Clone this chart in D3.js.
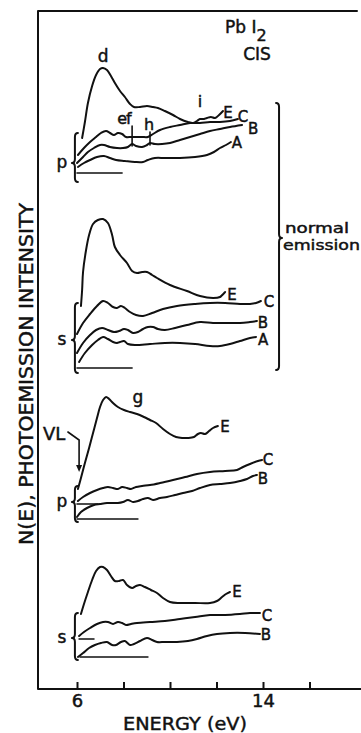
<!DOCTYPE html>
<html>
<head>
<meta charset="utf-8">
<title>PbI2 CIS spectra</title>
<script src="https://cdnjs.cloudflare.com/ajax/libs/d3/7.8.5/d3.min.js"></script>
<style>
  body { margin: 0; background: #fff; }
  svg { display: block; font-family: "DejaVu Sans", sans-serif; }
  text { fill: #111; stroke: #111; stroke-width: 0.45; }
  .curve { fill: none; stroke: #111; stroke-width: 2; stroke-linejoin: round; stroke-linecap: round; }
  .thin { fill: none; stroke: #111; stroke-width: 1.6; stroke-linecap: round; }
</style>
</head>
<body>
<div id="chart"></div>
<script>
// each point: [energy (eV), intensity (arb. units, spectra stacked with offsets)]
const energyTicks = [6, 8, 10, 12, 14, 16];
const labeledTicks = [6, 14];

// p polarisation, normal emission
const pNormE = [[6.22,55.1],[6.34,56.7],[6.47,58.6],[6.65,60.3],[6.82,61.4],[6.99,62.0],[7.12,62.1],[7.29,61.9],[7.46,61.3],[7.63,60.6],[7.85,59.8],[8.06,59.2],[8.28,58.5],[8.45,58.2],[8.71,58.2],[9.01,58.3],[9.27,58.2],[9.48,58.1],[9.78,57.8],[10.13,57.4],[10.43,57.0],[10.77,56.7],[10.99,56.6],[11.16,56.8],[11.29,57.0],[11.46,57.0],[11.59,57.1],[11.76,57.2],[11.94,57.1],[12.11,57.4],[12.28,57.8]];
const pNormC = [[6.04,53.4],[6.30,54.1],[6.56,54.7],[6.82,55.2],[7.03,55.6],[7.25,55.8],[7.42,55.6],[7.59,55.4],[7.76,55.6],[7.94,55.5],[8.11,55.2],[8.32,55.2],[8.54,55.2],[8.80,55.2],[9.05,55.2],[9.27,55.5],[9.57,55.9],[10.00,56.2],[10.43,56.4],[10.86,56.6],[11.29,56.6],[11.72,56.7],[12.15,56.7],[12.58,56.8],[12.92,57.0]];
const pNormB = [[6.00,52.6],[6.26,53.2],[6.47,53.7],[6.73,54.1],[6.99,54.4],[7.16,54.4],[7.42,54.2],[7.72,54.1],[7.98,54.1],[8.19,54.2],[8.37,54.5],[8.54,54.3],[8.80,54.2],[9.01,54.4],[9.14,54.6],[9.35,54.5],[9.66,54.5],[10.00,54.6],[10.43,54.9],[10.86,55.2],[11.29,55.5],[11.72,55.8],[12.15,56.0],[12.58,56.2],[13.10,56.4]];
const pNormA = [[6.04,52.2],[6.30,52.6],[6.56,52.9],[6.86,53.2],[7.16,53.3],[7.42,53.1],[7.68,52.9],[8.06,52.8],[8.49,52.7],[8.84,52.7],[9.05,52.9],[9.35,53.1],[9.78,53.1],[10.43,53.1],[11.08,53.2],[11.59,53.4],[11.89,53.7],[12.15,54.1],[12.41,54.4],[12.62,54.7]];

// s polarisation, normal emission
const sNormE = [[6.17,38.3],[6.22,39.9],[6.26,41.7],[6.39,43.9],[6.52,45.4],[6.69,46.5],[6.90,46.9],[7.12,47.0],[7.33,46.6],[7.51,45.4],[7.63,44.2],[7.85,43.4],[8.15,42.6],[8.37,41.8],[8.58,41.6],[8.80,41.7],[9.01,41.7],[9.23,41.4],[9.44,41.1],[10.00,40.4],[10.73,39.8],[11.29,39.3],[11.85,39.1],[12.15,39.2],[12.37,39.7]];
const sNormC = [[6.00,35.5],[6.26,36.6],[6.56,37.5],[6.86,38.3],[7.12,38.8],[7.33,38.6],[7.55,38.2],[7.72,38.1],[7.89,38.3],[8.06,38.1],[8.28,37.7],[8.54,37.4],[8.84,37.3],[9.23,37.6],[9.70,38.0],[10.30,38.3],[11.08,38.5],[11.72,38.6],[12.37,38.6],[13.01,38.5],[13.44,38.5],[13.70,38.6],[13.91,38.8]];
const sNormB = [[6.00,33.6],[6.26,34.6],[6.56,35.4],[6.82,35.9],[7.08,36.1],[7.33,35.9],[7.59,35.7],[7.81,35.8],[8.02,36.0],[8.19,35.9],[8.41,35.6],[8.62,35.7],[8.84,36.0],[9.05,36.2],[9.27,36.2],[9.48,36.0],[9.78,35.9],[10.22,36.1],[10.73,36.4],[11.29,36.7],[11.85,36.6],[12.37,36.6],[13.01,36.6],[13.44,36.7],[13.74,36.8]];
const sNormA = [[6.09,32.7],[6.34,33.6],[6.65,34.4],[6.90,34.9],[7.12,35.2],[7.33,35.0],[7.55,34.7],[7.72,34.6],[7.85,34.7],[8.02,34.8],[8.19,34.5],[8.49,34.4],[9.14,34.5],[9.78,34.6],[10.43,34.6],[11.08,34.5],[11.72,34.3],[12.15,34.3],[12.58,34.5],[13.01,34.8],[13.44,35.1],[13.70,35.2]];

// p polarisation, off normal
const pOffE = [[6.04,20.0],[6.17,21.1],[6.34,22.6],[6.52,24.1],[6.69,25.6],[6.86,27.1],[6.99,28.2],[7.12,28.9],[7.25,29.2],[7.38,29.0],[7.55,28.6],[7.76,28.2],[8.02,27.9],[8.28,27.7],[8.58,27.5],[8.88,27.2],[9.14,26.9],[9.40,26.6],[9.70,26.0],[10.00,25.5],[10.26,25.2],[10.52,25.1],[10.77,25.1],[11.03,25.2],[11.20,25.5],[11.33,25.6],[11.51,25.5],[11.68,25.8],[11.85,26.1],[12.06,26.3]];
const pOffC = [[6.04,18.8],[6.26,19.2],[6.56,19.6],[6.86,19.9],[7.12,20.1],[7.33,20.2],[7.55,20.1],[7.76,20.0],[7.94,20.2],[8.15,20.1],[8.32,20.0],[8.54,20.2],[8.80,20.3],[9.14,20.4],[9.57,20.6],[10.13,20.9],[10.65,21.2],[11.16,21.5],[11.72,21.7],[12.37,21.8],[12.88,21.9],[13.14,22.2],[13.44,22.5],[13.78,22.8],[13.96,22.9]];
const pOffB = [[6.00,17.2],[6.17,17.7],[6.43,18.1],[6.73,18.4],[6.99,18.5],[7.29,18.6],[7.55,18.6],[7.76,18.6],[7.98,18.7],[8.19,18.9],[8.41,18.7],[8.62,18.8],[8.84,19.0],[9.05,19.1],[9.27,18.9],[9.57,19.1],[9.87,19.2],[10.22,19.4],[10.56,19.6],[10.95,19.8],[11.29,20.1],[11.72,20.4],[12.15,20.5],[12.58,20.6],[13.01,20.8],[13.31,21.0],[13.57,21.3],[13.74,21.4]];

// s polarisation, off normal
const sOffE = [[6.17,7.5],[6.30,8.5],[6.47,9.7],[6.65,10.9],[6.82,11.8],[6.99,12.2],[7.12,12.2],[7.29,11.9],[7.46,11.3],[7.63,10.8],[7.81,10.8],[7.98,10.9],[8.15,10.4],[8.37,10.1],[8.54,10.3],[8.71,10.4],[8.92,10.2],[9.18,9.9],[9.44,9.6],[9.70,9.1],[10.00,8.7],[10.43,8.6],[11.08,8.6],[11.72,8.6],[12.02,8.8],[12.24,9.2],[12.41,9.5],[12.58,9.7]];
const sOffC = [[6.09,5.3],[6.30,5.7],[6.56,6.1],[6.86,6.5],[7.12,6.7],[7.33,6.7],[7.55,6.5],[7.76,6.7],[7.94,6.6],[8.11,6.4],[8.32,6.5],[8.58,6.6],[9.14,6.7],[9.78,6.8],[10.43,7.0],[11.08,7.2],[11.72,7.4],[12.37,7.4],[13.01,7.5],[13.44,7.6],[13.87,7.6]];
const sOffB = [[6.04,3.2],[6.26,3.6],[6.52,4.1],[6.77,4.4],[7.03,4.6],[7.29,4.7],[7.51,4.4],[7.68,4.4],[7.89,4.7],[8.06,4.8],[8.28,4.4],[8.45,4.5],[8.71,4.8],[9.01,5.1],[9.23,4.9],[9.44,4.7],[9.78,4.7],[10.30,4.7],[10.77,4.8],[11.16,5.0],[11.59,5.3],[12.02,5.5],[12.58,5.6],[13.23,5.6],[13.87,5.5]];

// zero lines: [start eV, end eV, level]
const zeroLines = [[6.00,7.94,51.6],[6.00,8.37,32.1],[6.00,8.62,17.0],[6.00,6.90,18.5],[6.13,9.05,3.2],[6.09,6.73,5.0]];

// group braces: [label, brace eV, top, bottom, tip]
const groups = [["p",5.91,55.6,50.7,52.6],["s",5.91,38.6,31.6,34.9],["p",5.91,20.3,16.7,18.7],["s",5.91,7.6,2.9,5.1]];

const spectra = [
  {name: "E", pts: pNormE}, {name: "C", pts: pNormC}, {name: "B", pts: pNormB}, {name: "A", pts: pNormA},
  {name: "E", pts: sNormE}, {name: "C", pts: sNormC}, {name: "B", pts: sNormB}, {name: "A", pts: sNormA},
  {name: "E", pts: pOffE}, {name: "C", pts: pOffC}, {name: "B", pts: pOffB},
  {name: "E", pts: sOffE}, {name: "C", pts: sOffC}, {name: "B", pts: sOffB}
];
// label nudges (px) from each curve's end, same order as spectra
const labelNudge = [[5,7],[5,3],[11,9],[6,6], [7,8],[8,6],[6,7],[7,8], [7,6],[6,5],[6,9], [7,5],[7,8],[6,6]];

const W = 361, H = 733;
const svg = d3.select("#chart").append("svg").attr("width", W).attr("height", H);

const x = d3.scaleLinear().domain([6, 14]).range([77, 263]);
const y = d3.scaleLinear().domain([0, 67.7]).range([689, 12]);

// frame
svg.append("path").attr("class", "curve").attr("stroke-linecap", "butt")
  .attr("d", `M357,11 H38 V689 H361`);

// bottom axis, ticks pointing up
const axis = svg.append("g").attr("transform", "translate(0,689)")
  .call(d3.axisBottom(x).tickValues(energyTicks).tickSize(-7).tickPadding(14)
    .tickFormat(d => labeledTicks.includes(d) ? d : ""));
axis.select(".domain").remove();
axis.selectAll(".tick line").attr("stroke", "#111").attr("stroke-width", 2);
axis.selectAll(".tick text").attr("font-size", 18).attr("font-family", "DejaVu Sans")
  .attr("fill", "#111").attr("dy", "0.2em");

svg.append("text").attr("x", 185).attr("y", 730).attr("text-anchor", "middle")
  .attr("font-size", 18).attr("textLength", 124).attr("lengthAdjust", "spacingAndGlyphs")
  .text("ENERGY (eV)");

svg.append("text").attr("transform", "translate(33,374) rotate(-90)").attr("text-anchor", "middle")
  .attr("font-size", 19).attr("textLength", 342).attr("lengthAdjust", "spacingAndGlyphs")
  .text("N(E), PHOTOEMISSION INTENSITY");

// spectra
const line = d3.line().x(d => x(d[0])).y(d => y(d[1])).curve(d3.curveCatmullRom.alpha(0.5));
svg.append("g").selectAll("path").data(spectra).join("path")
  .attr("class", "curve").attr("d", d => line(d.pts));

svg.append("g").selectAll("text").data(spectra).join("text")
  .attr("font-size", 15).attr("text-anchor", "middle")
  .attr("x", (d, i) => x(d.pts[d.pts.length - 1][0]) + labelNudge[i][0])
  .attr("y", (d, i) => y(d.pts[d.pts.length - 1][1]) + labelNudge[i][1])
  .text(d => d.name);

svg.append("g").selectAll("line").data(zeroLines).join("line")
  .attr("class", "thin")
  .attr("x1", d => x(d[0])).attr("x2", d => x(d[1]))
  .attr("y1", d => y(d[2])).attr("y2", d => y(d[2]));

// braces
function brace(bx, top, bottom, mid, dir) {
  const c = 3 * dir, r = 4;
  return `M${bx + c},${top} Q${bx},${top} ${bx},${top + r} L${bx},${mid - r} Q${bx},${mid} ${bx - c},${mid}` +
    ` Q${bx},${mid} ${bx},${mid + r} L${bx},${bottom - r} Q${bx},${bottom} ${bx + c},${bottom}`;
}
groups.forEach(g => {
  const bx = x(g[1]);
  svg.append("path").attr("class", "curve").attr("d", brace(bx, y(g[2]), y(g[3]), y(g[4]), 1));
  svg.append("text").attr("x", bx - 13).attr("y", y(g[4]) + 5).attr("text-anchor", "middle")
    .attr("font-size", 17).text(g[0]);
});
svg.append("path").attr("class", "curve").attr("d", brace(x(14.69), y(58.6), y(31.9), y(45.1), -1));
svg.append("text").attr("x", 285).attr("y", 233).attr("font-size", 14)
  .attr("textLength", 64).attr("lengthAdjust", "spacingAndGlyphs").text("normal");
svg.append("text").attr("x", 283).attr("y", 250).attr("font-size", 14)
  .attr("textLength", 77).attr("lengthAdjust", "spacingAndGlyphs").text("emission");

// feature markers
const markers = [[8.37, 56.3, 54.3], [9.14, 55.7, 54.4]];
svg.append("g").selectAll("line").data(markers).join("line").attr("class", "thin")
  .attr("x1", d => x(d[0])).attr("x2", d => x(d[0]))
  .attr("y1", d => y(d[1])).attr("y2", d => y(d[2]));

const notes = [["d", 7.12, 62.7, 17], ["ef", 8.02, 56.5, 16], ["h", 9.10, 55.9, 16],
               ["i", 11.29, 58.2, 16], ["g", 8.62, 28.6, 17]];
svg.append("g").selectAll("text").data(notes).join("text")
  .attr("x", d => x(d[1])).attr("y", d => y(d[2])).attr("text-anchor", "middle")
  .attr("font-size", d => d[3]).attr("letter-spacing", d => d[0] === "ef" ? -1 : 0).text(d => d[0]);

// title
const title = svg.append("text").attr("x", 225).attr("y", 33).attr("font-size", 17);
title.append("tspan").text("Pb I");
title.append("tspan").attr("dy", 8).attr("font-size", 16).text("2");
svg.append("text").attr("x", 257).attr("y", 60).attr("text-anchor", "middle").attr("font-size", 17).text("CIS");

// vacuum level arrow
svg.append("text").attr("x", 43).attr("y", 440).attr("font-size", 18).text("VL");
svg.append("path").attr("class", "thin")
  .attr("d", `M${x(5.61)},${y(25.7)} L${x(6.09)},${y(24.9)} L${x(6.09)},${y(22.3)}`);
svg.append("path").attr("fill", "#111")
  .attr("d", `M${x(6.09) - 3},${y(22.4)} L${x(6.09) + 3},${y(22.4)} L${x(6.09)},${y(21.7)} Z`);
</script>
</body>
</html>
